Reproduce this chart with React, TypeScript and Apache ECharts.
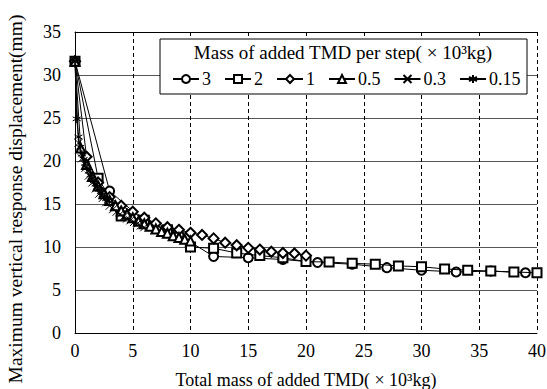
import React, { useEffect, useRef } from "react";
import * as echarts from "echarts";

const seriesNames = ["3", "2", "1", "0.5", "0.3", "0.15"];

const x3 = [0, 3, 6, 9, 12, 15, 18, 21, 24, 27, 30, 33, 36, 39];
const y3 = [31.6, 16.5, 13.0, 11.4, 8.9, 8.75, 8.55, 8.2, 8.0, 7.6, 7.3, 7.1, 7.2, 7.0];

const x2 = [0, 2, 4, 6, 8, 10, 12, 14, 16, 18, 20, 22, 24, 26, 28, 30, 32, 34, 36, 38, 40];
const y2 = [31.6, 18.0, 13.6, 13.1, 12.0, 10.0, 9.85, 9.3, 9.0, 8.75, 8.3, 8.25, 8.1, 8.0, 7.8, 7.7, 7.45, 7.3, 7.2, 7.1, 7.0];

const x1 = [0, 1, 2, 3, 4, 5, 6, 7, 8, 9, 10, 11, 12, 13, 14, 15, 16, 17, 18, 19, 20];
const y1 = [31.6, 20.5, 17.5, 15.8, 14.8, 14.1, 13.4, 12.75, 12.3, 12.0, 11.65, 11.4, 11.0, 10.5, 10.2, 9.9, 9.7, 9.45, 9.3, 9.25, 9.0];

const x05 = [0, 0.5, 1, 1.5, 2, 2.5, 3, 3.5, 4, 4.5, 5, 5.5, 6, 6.5, 7, 7.5, 8, 8.5, 9, 9.5, 10];
const y05 = [31.6, 21.5, 19.6, 18.2, 17.1, 16.2, 15.4, 14.8, 14.2, 13.8, 13.4, 13.0, 12.7, 12.4, 12.1, 11.8, 11.6, 11.3, 11.1, 10.9, 10.7];

const x03 = [0, 0.3, 0.6, 0.9, 1.2, 1.5, 1.8, 2.1, 2.4, 2.7, 3.0, 3.3, 3.6, 3.9, 4.2, 4.5, 4.8, 5.1, 5.4, 5.7, 6.0];
const y03 = [31.6, 22.1, 20.3, 19.2, 18.3, 17.5, 16.8, 16.2, 15.7, 15.2, 14.8, 14.4, 14.1, 13.8, 13.5, 13.3, 13.1, 12.9, 12.7, 12.5, 12.3];

const x015 = [0, 0.15, 0.3, 0.45, 0.6, 0.75, 0.9, 1.05, 1.2, 1.35, 1.5, 1.65, 1.8, 1.95, 2.1, 2.25, 2.4, 2.55, 2.7, 2.85, 3.0];
const y015 = [31.6, 24.9, 22.8, 21.6, 20.8, 20.2, 19.7, 19.2, 18.8, 18.4, 18.0, 17.7, 17.3, 17.0, 16.7, 16.4, 16.1, 15.8, 15.6, 15.4, 15.2];

const xTicks = { min: 0, max: 40, interval: 5 };
const yTicks = { min: 0, max: 35, interval: 5 };

const xTitle = "Total mass of added TMD( × 10³kg)";
const yTitle = "Maximum vertical response displacement(mm)";
const legendTitle = "Mass of added TMD per step( × 10³kg)";

const FONT = "Liberation Serif";

const CROSS = "path://M0,0 L10,10 M10,0 L0,10";
const STAR = "path://M5,0 L5,10 M0.7,2.5 L9.3,7.5 M9.3,2.5 L0.7,7.5";

const symbols = ["emptyCircle", "emptyRect", "emptyDiamond", "emptyTriangle", CROSS, STAR];
const symbolSizes = [9, 9, 10, 9, 8, 8];

const xs = [x3, x2, x1, x05, x03, x015];
const ys = [y3, y2, y1, y05, y03, y015];

export default function App() {
  const ref = useRef<HTMLDivElement>(null);
  useEffect(() => {
    document.body.style.margin = "0";
    const chart = echarts.init(ref.current!, null, { renderer: "svg" });
    const series = seriesNames.map((name, i) => ({
      name,
      type: "line",
      data: xs[i].map((x, j) => [x, ys[i][j]]),
      symbol: symbols[i],
      symbolSize: symbolSizes[i],
      showAllSymbol: true,
      lineStyle: { color: "#000", width: 1 },
      itemStyle: { color: "#000", borderColor: "#000", borderWidth: 1 },
      z: 2 + i,
    }));
    chart.setOption({
      animation: false,
      backgroundColor: "#fff",
      textStyle: { fontFamily: FONT },
      grid: { left: 75, right: 10, top: 32, bottom: 56, outerBoundsMode: "none" },
      xAxis: [
        {
          type: "value",
          ...xTicks,
          name: xTitle,
          nameLocation: "middle",
          nameGap: 38,
          nameTextStyle: { fontFamily: FONT, fontSize: 18, color: "#000" },
          axisLine: { show: true, onZero: false, lineStyle: { color: "#000", width: 1 } },
          axisTick: { show: false },
          axisLabel: { fontFamily: FONT, fontSize: 18, color: "#000", margin: 9 },
          splitLine: { show: true, lineStyle: { color: "#000", type: [4, 3], width: 1 } },
        },
        {
          type: "value",
          ...xTicks,
          position: "top",
          axisLine: { show: true, onZero: false, lineStyle: { color: "#000", width: 1 } },
          axisTick: { show: false },
          axisLabel: { show: false },
          splitLine: { show: false },
        },
      ],
      yAxis: {
        type: "value",
        ...yTicks,
        axisLine: { show: true, onZero: false, lineStyle: { color: "#000", width: 1 } },
        axisTick: { show: false },
        axisLabel: { fontFamily: FONT, fontSize: 18, color: "#000", margin: 14 },
        splitLine: { show: true, lineStyle: { color: "#555", width: 1 } },
      },
      graphic: [
        {
          type: "text",
          x: 15,
          y: 199,
          rotation: Math.PI / 2,
          style: {
            text: yTitle,
            fontFamily: FONT,
            fontSize: 19.5,
            fill: "#000",
            align: "center",
            verticalAlign: "middle",
          },
          z: 10,
        },
        {
          type: "rect",
          x: 160,
          y: 39,
          shape: { x: 0, y: 0, width: 367, height: 55 },
          style: { fill: "#fff", stroke: "#000", lineWidth: 1 },
          z: 50,
        },
        {
          type: "text",
          x: 343,
          y: 43,
          style: {
            text: legendTitle,
            fontFamily: FONT,
            fontSize: 19,
            fill: "#000",
            align: "center",
            verticalAlign: "top",
          },
          z: 51,
        },
      ],
      legend: {
        data: seriesNames,
        left: 172,
        top: 70,
        itemWidth: 26,
        itemHeight: 10,
        itemGap: 13,
        padding: 0,
        z: 60,
        textStyle: { fontFamily: FONT, fontSize: 18, color: "#000", padding: [0, 0, 0, -2] },
      },
      series,
    });
    return () => chart.dispose();
  }, []);
  return <div ref={ref} style={{ width: 547, height: 389 }} />;
}
